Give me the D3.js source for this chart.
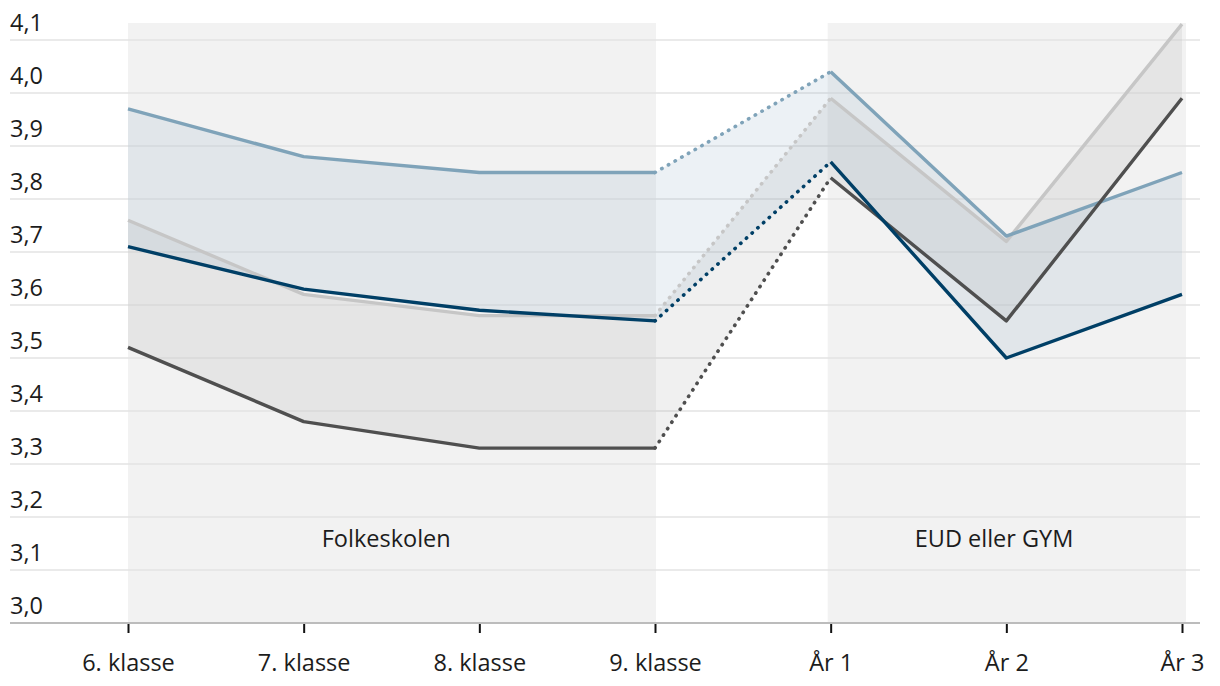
<!DOCTYPE html>
<html>
<head>
<meta charset="utf-8">
<script src="https://cdn.jsdelivr.net/npm/d3@7"></script>
<style>
  html, body { margin: 0; padding: 0; background: #ffffff; }
  svg { display: block; }
  text { font-family: "Open Sans", sans-serif; }
</style>
</head>
<body>
<svg id="chart" width="1220" height="686"></svg>
<script>
// ---- data ----
const categories = ["6. klasse", "7. klasse", "8. klasse", "9. klasse", "År 1", "År 2", "År 3"];
const yTicks = [3.0, 3.1, 3.2, 3.3, 3.4, 3.5, 3.6, 3.7, 3.8, 3.9, 4.0, 4.1];
const lightBlueValues = [3.97, 3.88, 3.85, 3.85, 4.04, 3.73, 3.85];
const darkBlueValues  = [3.71, 3.63, 3.59, 3.57, 3.87, 3.50, 3.62];
const lightGrayValues = [3.76, 3.62, 3.58, 3.58, 3.99, 3.72, 4.13];
const darkGrayValues  = [3.52, 3.38, 3.33, 3.33, 3.84, 3.57, 3.99];
const groupNames = ["Folkeskolen", "EUD eller GYM"];
const groupRanges = [[0, 3], [4, 6]];        // category index spans of shaded bands
const groupLabelPos = [1.47, 4.93];          // label centre in category-index units

// ---- layout ----
const svg = d3.select("#chart");
const x = d3.scalePoint().domain(categories).range([128, 1182]);
const xi = d3.scaleLinear().domain([0, categories.length - 1]).range([128, 1182]);
const y = d3.scaleLinear().domain([3.0, 4.1]).range([623, 40]);
const gridLeft = 10, gridRight = 1200, bandTop = 23;
const fontSize = 23.5, textColor = "#1c1c1c";

// shaded bands
svg.append("g").selectAll("rect").data(groupRanges).join("rect")
  .attr("x", (d, i) => xi(d[0]) - (i === 0 ? 0 : 3))
  .attr("y", bandTop)
  .attr("width", (d, i) => xi(d[1]) - xi(d[0]) + (i === 0 ? 1 : 7))
  .attr("height", y(3.0) - bandTop)
  .attr("fill", "#f2f2f2");

// grid lines
svg.append("g").selectAll("line").data(yTicks.slice(1)).join("line")
  .attr("x1", gridLeft).attr("x2", gridRight)
  .attr("y1", d => y(d)).attr("y2", d => y(d))
  .attr("stroke", "#e3e3e3").attr("stroke-width", 1.5);

// y labels
const fmt = d => d3.format(".1f")(d).replace(".", ",");
svg.append("g").selectAll("text").data(yTicks).join("text")
  .attr("x", 10).attr("y", d => y(d) - 9)
  .attr("font-size", fontSize).attr("fill", textColor)
  .text(fmt);

// group labels
svg.append("g").selectAll("text").data(groupNames).join("text")
  .attr("x", (d, i) => xi(groupLabelPos[i]))
  .attr("y", 547)
  .attr("text-anchor", "middle")
  .attr("font-size", fontSize).attr("fill", textColor)
  .text(d => d);

// areas
const area = (upper, lower) => d3.area()
  .x((d, i) => x(categories[i]))
  .y0((d, i) => y(lower[i]))
  .y1((d, i) => y(upper[i]))(upper);
svg.append("path").attr("d", area(lightGrayValues, darkGrayValues))
  .attr("fill", "#a0a0a0").attr("fill-opacity", 0.16);
svg.append("path").attr("d", area(lightBlueValues, darkBlueValues))
  .attr("fill", "#7fa3b9").attr("fill-opacity", 0.15);

// lines
const series = [
  { values: lightGrayValues, color: "#c6c6c6" },
  { values: lightBlueValues, color: "#7fa3b9" },
  { values: darkGrayValues,  color: "#4f4f4f" },
  { values: darkBlueValues,  color: "#003f66" }
];
const line = d3.line().x(d => x(categories[d.i])).y(d => y(d.v));
series.forEach(s => {
  const pts = s.values.map((v, i) => ({ v, i }));
  const g = svg.append("g");
  groupRanges.forEach(r => {
    g.append("path").attr("d", line(pts.slice(r[0], r[1] + 1)))
      .attr("fill", "none").attr("stroke", s.color)
      .attr("stroke-width", 3.4).attr("stroke-linejoin", "round");
  });
  g.append("path").attr("d", line(pts.slice(groupRanges[0][1], groupRanges[1][0] + 1)))
    .attr("fill", "none").attr("stroke", s.color)
    .attr("stroke-width", 3.6).attr("stroke-linecap", "round")
    .attr("stroke-dasharray", "0.4 7.3");
});

// x axis
const axisY = y(3.0);
svg.append("line").attr("x1", gridLeft).attr("x2", gridRight)
  .attr("y1", axisY).attr("y2", axisY)
  .attr("stroke", "#bcbcbc").attr("stroke-width", 2);
const xAxis = svg.append("g").attr("transform", `translate(0,${axisY + 1})`)
  .call(d3.axisBottom(x).tickSize(9).tickPadding(21));
xAxis.select(".domain").remove();
xAxis.selectAll(".tick line").attr("stroke", "#111").attr("stroke-width", 2);
xAxis.selectAll(".tick text").attr("font-size", fontSize).attr("fill", textColor)
  .attr("font-family", "'Open Sans', sans-serif");
</script>
</body>
</html>
